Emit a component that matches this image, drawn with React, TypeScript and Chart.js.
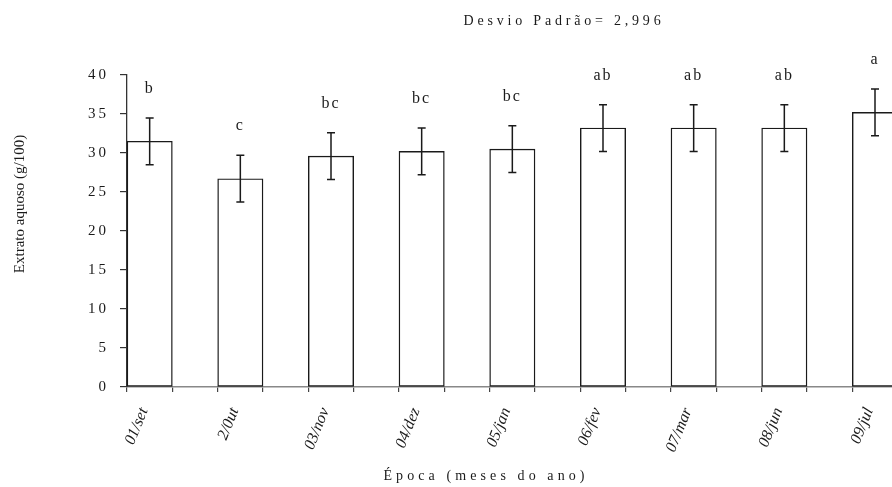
import React, { useEffect, useRef } from 'react';
import { Chart, registerables } from 'chart.js';

Chart.register(...registerables);

// ---- data ----
const categories = ['01/set', '2/0ut', '03/nov', '04/dez', '05/jan', '06/fev', '07/mar', '08/jun', '09/jul'];
const means = [31.5, 26.7, 29.6, 30.2, 30.5, 33.2, 33.2, 33.2, 35.2];
const errors = [2.996, 2.996, 2.996, 2.996, 2.996, 2.996, 2.996, 2.996, 2.996];
const letters = ['b', 'c', 'bc', 'bc', 'bc', 'ab', 'ab', 'ab', 'a'];
const yTickValues = [0, 5, 10, 15, 20, 25, 30, 35, 40];
const chartTitle = 'Desvio Padrão= 2,996';
const yAxisTitle = 'Extrato aquoso (g/100)';
const xAxisTitle = 'Época (meses do ano)';

const SERIF = '"Liberation Serif", "Times New Roman", serif';
const INK = '#1a1a1a';

const spacingPlugin = {
  id: 'ySpacing',
  afterUpdate(chart: any) {
    const y = chart.scales.y;
    if (y && !y.__patched) {
      const orig = y.drawLabels.bind(y);
      y.drawLabels = (area: any) => {
        const ctx = chart.ctx;
        ctx.save();
        ctx.letterSpacing = '3px';
        orig(area);
        ctx.restore();
      };
      y.__patched = true;
    }
  },
};

const errorBarPlugin = {
  id: 'errorBars',
  afterDatasetsDraw(chart: any) {
    const ctx = chart.ctx;
    const ys = chart.scales.y;
    const meta = chart.getDatasetMeta(0);
    ctx.save();
    ctx.strokeStyle = INK;
    ctx.lineWidth = 1.5;
    meta.data.forEach((bar: any, i: number) => {
      const cx = bar.x;
      const top = ys.getPixelForValue(means[i] + errors[i]);
      const bot = ys.getPixelForValue(means[i] - errors[i]);
      ctx.beginPath();
      ctx.moveTo(cx, top);
      ctx.lineTo(cx, bot);
      ctx.moveTo(cx - 4, top);
      ctx.lineTo(cx + 4, top);
      ctx.moveTo(cx - 4, bot);
      ctx.lineTo(cx + 4, bot);
      ctx.stroke();
      // significance letters
      ctx.fillStyle = INK;
      ctx.font = `16px ${SERIF}`;
      ctx.letterSpacing = '2px';
      ctx.textAlign = 'center';
      ctx.textBaseline = 'alphabetic';
      ctx.fillText(letters[i], cx, top - 25);
      ctx.letterSpacing = '0px';
    });
    ctx.restore();
  },
};

const textPlugin = {
  id: 'texts',
  afterDraw(chart: any) {
    const ctx = chart.ctx;
    ctx.save();
    ctx.fillStyle = INK;
    ctx.textAlign = 'center';
    ctx.textBaseline = 'alphabetic';
    ctx.font = `14px ${SERIF}`;
    ctx.letterSpacing = '3.8px';
    ctx.fillText(chartTitle, 564, 25);
    ctx.letterSpacing = '4.1px';
    ctx.fillText(xAxisTitle, 486, 480);
    ctx.letterSpacing = '0px';
    ctx.font = `15px ${SERIF}`;
    ctx.translate(20, 204);
    ctx.rotate(-Math.PI / 2);
    ctx.textBaseline = 'middle';
    ctx.fillText(yAxisTitle, 0, 0);
    ctx.restore();
  },
};

export default function App() {
  const ref = useRef<HTMLCanvasElement | null>(null);

  useEffect(() => {
    if (!ref.current) return;
    const xTickValues: number[] = [];
    for (let i = 0; i <= categories.length * 2; i++) xTickValues.push(i / 2);

    const chart = new Chart(ref.current, {
      type: 'bar',
      data: {
        datasets: [
          {
            data: means.map((v, i) => ({ x: i + 0.25, y: v })),
            backgroundColor: '#ffffff',
            borderColor: INK,
            borderWidth: 1.4,
            borderSkipped: false,
            barThickness: 'flex',
            categoryPercentage: 1,
            barPercentage: 0.5,
          } as any,
        ],
      },
      options: {
        responsive: false,
        animation: false,
        devicePixelRatio: 1,
        layout: { padding: { top: 75, left: 0, right: 0, bottom: 0 } },
        plugins: {
          legend: { display: false },
          tooltip: { enabled: false },
          title: { display: false },
        },
        scales: {
          x: {
            type: 'linear',
            offset: false,
            min: 0,
            max: categories.length,
            afterBuildTicks: (s: any) => {
              s.ticks = xTickValues.map((v) => ({ value: v }));
            },
            afterFit: (s: any) => {
              s.height = 100;
              s.paddingLeft = 0;
              s.paddingRight = 0;
            },
            grid: { offset: false, drawOnChartArea: false, drawTicks: true, tickLength: 5, color: '#444', lineWidth: 1.2 },
            border: { color: '#888', width: 1.6 },
            ticks: {
              autoSkip: false,
              minRotation: 68,
              maxRotation: 68,
              labelOffset: 17,
              padding: 13,
              color: INK,
              font: { family: SERIF, size: 16, style: 'italic' },
              callback: (v: any) => {
                const n = Number(v);
                return Number.isInteger(n) && n < categories.length ? categories[n] : '';
              },
            },
          } as any,
          y: {
            min: 0,
            max: 40,
            afterBuildTicks: (s: any) => {
              s.ticks = yTickValues.map((v) => ({ value: v }));
            },
            afterFit: (s: any) => {
              s.width = 127;
            },
            grid: { drawOnChartArea: false, drawTicks: true, tickLength: 7, color: '#333', lineWidth: 1.2 },
            border: { color: '#333', width: 1.3 },
            ticks: {
              padding: 11,
              color: INK,
              font: { family: SERIF, size: 15 },
            },
          } as any,
        },
      },
      plugins: [spacingPlugin, errorBarPlugin, textPlugin],
    });
    return () => chart.destroy();
  }, []);

  return (
    <div
      style={{
        position: 'fixed',
        left: 0,
        top: 0,
        width: 892,
        height: 487,
        overflow: 'hidden',
        background: '#ffffff',
      }}
    >
      <canvas ref={ref} width={943} height={487} style={{ display: 'block' }} />
    </div>
  );
}
